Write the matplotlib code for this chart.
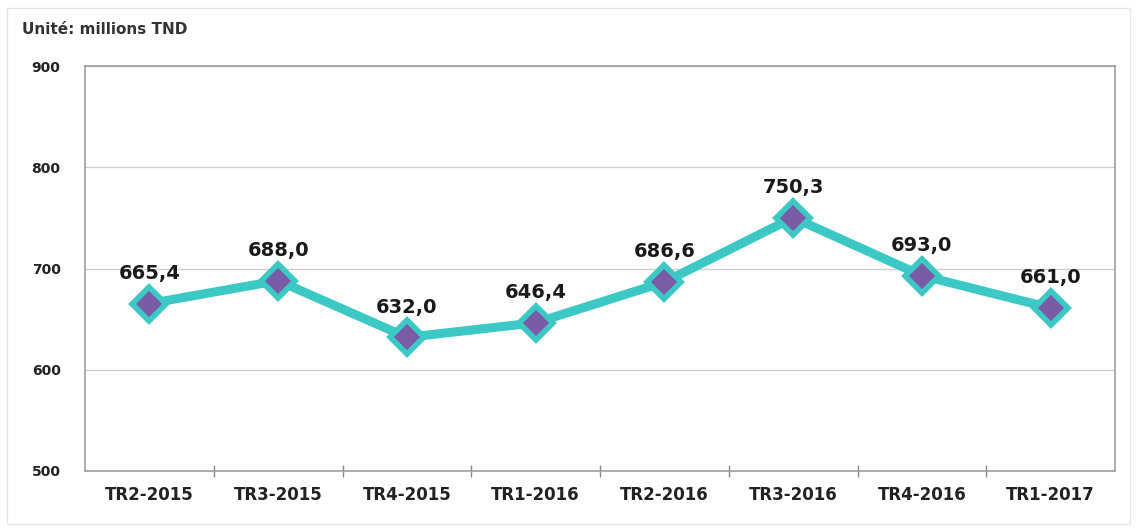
import matplotlib
matplotlib.use("Agg")
import matplotlib.pyplot as plt
from matplotlib.ticker import FixedLocator

categories = ["TR2-2015", "TR3-2015", "TR4-2015", "TR1-2016",
              "TR2-2016", "TR3-2016", "TR4-2016", "TR1-2017"]
values = [665.4, 688.0, 632.0, 646.4, 686.6, 750.3, 693.0, 661.0]
labels = ["665,4", "688,0", "632,0", "646,4", "686,6", "750,3", "693,0", "661,0"]
yticks = [500, 600, 700, 800, 900]

plt.rcParams['font.family'] = ['DejaVu Sans']

fig = plt.figure(figsize=(11.37, 5.32), dpi=100)
ax = fig.add_axes([85/1137, 61/532, 1030/1137, 405/532])

x = list(range(len(categories)))
ax.plot(x, values, color="#3CC8C4", linewidth=6.5, solid_joinstyle="round", zorder=3)
ax.plot(x, values, linestyle="none", marker="D", markersize=17,
        markerfacecolor="#7A5BA6", markeredgecolor="#3CC8C4", markeredgewidth=4, zorder=4)

for xi, v, lab in zip(x, values, labels):
    ax.annotate(lab, (xi, v), xytext=(0, 15), textcoords="offset points",
                ha="center", va="bottom", fontsize=14, fontweight="bold", color="#1a1a1a")

ax.set_xlim(-0.5, len(categories) - 0.5)
ax.set_ylim(500, 900)
ax.set_yticks(yticks)
ax.set_yticklabels([str(t) for t in yticks], fontsize=10, fontweight="bold", color="#222222")
ax.set_xticks(x)
ax.set_xticklabels(categories, fontsize=12, fontweight="bold", color="#222222")
ax.tick_params(axis="x", length=0, pad=11)
ax.tick_params(axis="y", length=0, pad=28)
ax.xaxis.set_minor_locator(FixedLocator([i + 0.5 for i in range(len(categories) - 1)]))
ax.tick_params(axis="x", which="minor", length=8, direction="inout", color="#888888", width=1)
for t in ax.yaxis.get_ticklabels():
    t.set_horizontalalignment("center")

ax.grid(axis="y", color="#d0d0d0", linewidth=1)
ax.set_axisbelow(True)
for s in ax.spines.values():
    s.set_color("#a0a0a0")
    s.set_linewidth(1.2)

fig.text(22/1137, 1 - 30/532, "Unité: millions TND", fontsize=11, fontweight="bold",
         color="#333333", ha="left", va="center")
fig.patches.append(plt.Rectangle((7/1137, 8/532), 1 - 14/1137, 1 - 16/532,
                                 transform=fig.transFigure, fill=False,
                                 edgecolor="#e6e6e6", linewidth=1))

fig.savefig("out.png", dpi=100)
